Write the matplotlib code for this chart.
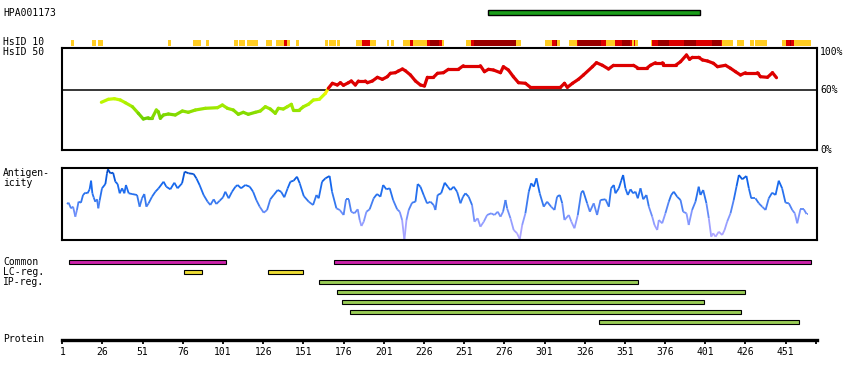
import numpy as np
import matplotlib.pyplot as plt
from matplotlib.collections import LineCollection
from matplotlib.colors import LinearSegmentedColormap

# protein length and the HPA antigen
protein_len = 470
hpa_start, hpa_end = 266, 398

# HsID 10 strip: segments (start, end) and level 1=low 2=mid 3=high
strip_start = [6.5, 19.5, 23, 67, 82, 90.5, 108, 111, 116, 128, 134, 136, 139, 140.5, 146.5,
               164.5, 167, 172, 184, 187.5, 192.5, 203, 205.5, 213, 217, 219, 228, 230, 235.5,
               237, 252, 255, 257, 283.5, 301, 304, 305.5, 308, 309, 316, 321, 322, 336,
               339.5, 345, 349, 354, 355.5, 356.5, 357.5, 367, 368, 371.5, 378.5, 388, 395.5,
               405, 410.5, 411.5, 420.5, 429, 432, 449, 451, 453.5, 454.5, 456]
strip_end = [8.5, 22, 26.5, 68.5, 87.5, 92.5, 110.5, 114.5, 122.5, 131.5, 135.5, 139, 140.5, 142.5,
             148.5, 166.5, 171.5, 173.5, 187.5, 192.5, 196, 204.5, 207.5, 217, 219, 228, 230,
             235.5, 237, 238.5, 255, 257, 283.5, 286.5, 303.5, 305.5, 308, 309, 310.5, 321, 322,
             336, 339.5, 345, 349, 354, 355.5, 356.5, 357.5, 359, 368, 371.5, 378.5, 388, 395.5,
             405, 410.5, 411.5, 418.5, 425, 431.5, 439.5, 451, 453.5, 454.5, 456, 467]
strip_level = [1, 1, 1, 1, 1, 1, 1, 1, 1, 1, 1, 1, 2, 1, 1,
               1, 1, 1, 1, 2, 1, 1, 1, 1, 2, 1, 2, 3, 2,
               1, 1, 2, 3, 1, 1, 1, 2, 3, 1, 1, 2, 3, 2,
               1, 2, 3, 2, 1, 2, 1, 1, 2, 3, 2, 3, 2,
               3, 2, 1, 1, 1, 1, 1, 2, 3, 2, 1]
strip_colors = {1: '#FFCC22', 2: '#DD0000', 3: '#990000'}

# HsID 50 identity [%]
hsid_pos = [25.3, 29.6, 33.4, 37.1, 40.2, 44.6, 48.3, 51.4, 54.5, 57.0, 59.5, 60.7, 62.0, 63.9,
            67.0, 71.3, 75.7, 79.4, 83.8, 90.0, 97.5, 100.6, 103.7, 107.4, 110.5, 113.6, 116.7,
            121.1, 124.2, 127.3, 130.4, 133.5, 135.4, 138.5, 141.0, 143.5, 144.7, 148.5, 151.0,
            154.1, 157.2, 160.9, 164.7, 166.5, 169.0, 172.1, 174.0, 175.9, 179.0, 180.8, 183.3,
            185.2, 189.5, 190.8, 193.9, 197.0, 200.1, 203.2, 205.1, 208.2, 210.1, 212.6, 214.4,
            217.6, 220.7, 223.8, 226.3, 228.1, 231.9, 234.4, 238.1, 241.2, 247.4, 250.5, 261.1,
            263.6, 266.1, 269.2, 273.6, 275.4, 278.5, 281.6, 284.8, 289.1, 292.2, 310.9, 313.4,
            315.2, 318.4, 322.1, 325.2, 330.8, 333.3, 337.0, 340.8, 343.9, 356.3, 358.8, 365.0,
            366.9, 370.0, 374.4, 375.0, 382.5, 385.6, 389.3, 391.2, 393.0, 396.8, 399.3, 402.4,
            406.1, 408.6, 413.6, 416.7, 419.8, 422.9, 426.0, 433.5, 435.3, 439.7, 442.8, 445.3]
hsid_val = [47.7, 50.7, 51.3, 50, 47.3, 43.3, 36.7, 31, 32.3, 32.3, 40, 38.3, 31.7, 35,
            36, 35, 39, 37.7, 40, 41.7, 42.3, 45, 41.7, 40, 35.7, 37.7, 35.7,
            37.7, 39, 43.3, 41, 36.7, 41.7, 41, 43.3, 45.7, 40, 40, 43.3,
            45.7, 50, 50.7, 56.7, 61.7, 66.7, 65, 67.3, 64.7, 67.3, 69, 65,
            69, 69, 67.3, 69, 72.7, 70.7, 73.3, 76.7, 77.3, 79, 81, 79.3,
            75, 69, 65, 64, 72.7, 72.7, 76.7, 77.3, 80.7, 80.7, 84.3, 84.3,
            78.3, 80.7, 80, 77.3, 83.3, 80, 73.3, 67.3, 66.7, 62.7, 62.7, 66.7,
            62.7, 66.7, 70.7, 75, 83.3, 87.3, 84.7, 81, 84.7, 84.7, 82.3, 82.3,
            84.7, 87.3, 87.3, 84.7, 84.7, 88.3, 95, 90.7, 92.7, 92.7, 90, 89,
            86.7, 83.3, 84.7, 81.7, 78.3, 75, 77.3, 77.3, 73.3, 72.7, 77.3, 72.3]

# antigenicity (arbitrary units)
ag_pos = [3.9, 4.9, 6.4, 7.7, 9.1, 10.1, 11.1, 12.6, 13.9, 15.3, 16.7, 18.0, 18.9, 19.7, 20.5,
          21.5, 22.6, 23.4, 24.2, 25.7, 27.8, 28.8, 29.4, 30.9, 32.6, 34.0, 35.4, 36.7, 38.2,
          39.6, 40.6, 42.3, 44.4, 47.5, 49.1, 50.6, 52.0, 53.3, 54.7, 56.8, 58.9, 60.9, 64.0,
          65.7, 68.2, 70.7, 72.7, 75.5, 77.1, 79.6, 82.7, 84.4, 86.4, 88.9, 91.4, 93.1, 95.2,
          96.8, 98.9, 101.0, 102.4, 104.5, 106.6, 108.7, 110.1, 112.2, 114.9, 117.6, 119.7,
          121.7, 123.8, 126.3, 128.4, 130.4, 132.5, 135.0, 137.1, 139.1, 141.2, 142.9, 144.9,
          147.0, 148.7, 151.2, 154.3, 157.0, 159.1, 160.5, 162.6, 164.7, 167.3, 168.8, 171.5,
          173.6, 176.0, 177.5, 179.2, 180.7, 182.7, 184.8, 186.0, 187.1, 188.5, 190.2, 192.2,
          194.7, 196.8, 198.9, 200.6, 202.6, 204.7, 206.8, 209.3, 210.9, 212.4, 213.8, 215.1,
          216.5, 218.6, 220.7, 222.1, 223.8, 225.8, 227.9, 230.0, 232.0, 233.1, 234.5, 236.7,
          238.9, 240.8, 242.4, 244.5, 246.6, 248.7, 250.3, 251.8, 253.8, 255.9, 257.4, 259.4,
          261.1, 263.2, 265.3, 267.8, 269.8, 271.9, 273.6, 275.2, 276.7, 277.7, 279.8, 281.8,
          283.9, 285.6, 287.1, 289.1, 291.2, 292.7, 294.3, 296.0, 298.0, 300.5, 302.6, 305.1,
          307.2, 308.8, 310.5, 312.0, 313.4, 316.1, 317.7, 319.6, 321.7, 323.8, 325.0, 327.5,
          329.2, 331.6, 333.7, 335.8, 338.9, 341.0, 342.4, 344.1, 345.1, 347.2, 348.7, 349.9,
          351.3, 352.8, 354.5, 356.1, 357.6, 359.0, 360.7, 362.4, 364.4, 365.9, 368.0, 369.4,
          371.1, 372.1, 374.2, 376.2, 378.3, 379.8, 381.4, 383.5, 385.6, 387.2, 389.3, 390.7,
          392.8, 394.9, 396.9, 398.0, 399.7, 401.7, 403.2, 404.7, 405.9, 407.4, 409.4, 411.5,
          413.0, 414.6, 416.7, 418.7, 420.4, 421.9, 424.0, 426.6, 428.1, 429.6, 432.2, 434.3,
          436.4, 438.5, 440.5, 442.6, 444.7, 446.7, 448.8, 450.9, 453.0, 455.1, 456.7, 458.2,
          460.2, 462.3, 464.0, 464.8]
ag_val = [36, 37.3, 31.7, 33.3, 23.3, 30, 38.3, 37.3, 45, 47.3, 46.7, 50.7, 59.3, 46.7, 42.7,
          38.3, 40.7, 31.7, 39.3, 51.7, 56, 66.7, 70.7, 66.7, 67.3, 58.3, 56, 46.7, 51.7,
          46.7, 55, 46.7, 46, 45, 33.3, 41.7, 46, 33.3, 36.7, 43.3, 48.3, 51.7, 58.3,
          53.3, 50.7, 57.3, 51.7, 56.7, 68.3, 66.7, 66, 61.7, 55, 45, 38.3, 35, 40.7,
          36, 39.3, 42.7, 48.3, 41.7, 48.3, 53.3, 55, 51.7, 55, 53.3, 48.3,
          40, 33.3, 27.3, 30, 40.7, 45, 50, 48.3, 42.7, 51.7, 58.3, 59.3,
          63.3, 56.7, 44, 38.3, 35, 45, 41.7, 58.3, 61.7, 64, 48.3, 31.7,
          30, 25, 40.7, 40.7, 28.3, 26.7, 30.7, 20, 14, 18.3, 28.3, 30.7,
          41.7, 46, 43.3, 55, 50.7, 51.7, 40, 30.7, 28.3, 20, 0, 20,
          30, 37.3, 38.3, 56, 53.3, 45, 36.7, 38.3, 35, 30, 45, 46.7,
          57.3, 53.3, 50, 53.3, 48.3, 36.7, 43.3, 46.7, 43.3, 35, 18.3, 21.7,
          13.3, 18.3, 25, 26.7, 25, 28.3, 23.3, 28.3, 40, 31.7, 21.7, 10,
          6.7, 0.7, 15, 26.7, 48.3, 56.7, 53.3, 61.7, 46.7, 33.3, 38.3, 33.3,
          30, 43.3, 45, 36.7, 20, 25, 18.3, 11.7, 25, 47.3, 49.3, 36.7,
          28.3, 36.7, 25, 40, 40.7, 33.3, 51.7, 55, 46.7, 51.7, 59.3, 65,
          51.7, 45, 50.7, 46.7, 48.3, 41.7, 51.7, 40.7, 45, 33.3, 23.3, 15,
          10, 20, 16.7, 26.7, 38.3, 45, 48.3, 43.3, 40, 28.3, 26.7, 15,
          30, 38.3, 53.3, 45, 50, 36.7, 21.7, 3.3, 6.7, 3.3, 8.3, 5,
          10, 18.3, 26.7, 40, 53.3, 65, 60.7, 64, 51.7, 41.7, 41.7, 36.7,
          33.3, 30, 41.7, 47.3, 45, 59.3, 51.7, 37.3, 36.7, 30, 26.7, 16.7,
          30.7, 30.7, 26, 26]

# feature tracks
common_start = [5, 170]
common_end = [103, 467]
lc_start = [77, 129]
lc_end = [88, 151]
ip_start = [161, 172, 175, 180, 335]
ip_end = [359, 426, 400, 423, 459]

tick_res = [1, 26, 51, 76, 101, 126, 151, 176, 201, 226, 251, 276, 301, 326, 351, 376, 401, 426, 451]

W, H = 850, 380
MONO = 'DejaVu Sans Mono'
FS = 7
plt.rcParams['font.family'] = MONO

fig = plt.figure(figsize=(8.5, 3.8), dpi=100)


def box(top, bottom, left=61.5, right=817):
    return [left / W, 1 - bottom / H, (right - left) / W, (bottom - top) / H]


def label(x, y, s, **kw):
    fig.text(x / W, 1 - y / H, s, fontsize=FS, va='center', ha='left', **kw)


def clean(ax):
    ax.set_xlim(0.5, protein_len + 0.5)
    ax.set_xticks([])
    ax.set_yticks([])


# HPA antigen bar
ax = fig.add_axes(box(7, 17))
clean(ax)
ax.set_ylim(0, 1)
ax.axis('off')
ax.barh(0.5, hpa_end - hpa_start, left=hpa_start, height=0.5,
        color='#1A9E1A', edgecolor='black', linewidth=1.0)

# HsID 10 strip
ax = fig.add_axes(box(40, 45.5))
clean(ax)
ax.set_ylim(0, 1)
ax.axis('off')
for lev in (1, 2, 3):
    segs = [(s, e - s) for s, e, l in zip(strip_start, strip_end, strip_level) if l == lev]
    ax.broken_barh(segs, (0, 1), facecolors=strip_colors[lev], linewidth=0)

# HsID 50 plot
ax = fig.add_axes(box(48, 150))
clean(ax)
ax.set_ylim(0, 102)
for sp in ax.spines.values():
    sp.set_linewidth(1.5)
ax.axhline(60, color='black', linewidth=1.1)
green = LinearSegmentedColormap.from_list(
    'hs', [(0, '#66CC00'), (0.5, '#AAEE00'), (0.8, '#CCFF00'), (1, '#FFEE00')])
pts = np.column_stack([hsid_pos, hsid_val])
segs = np.stack([pts[:-1], pts[1:]], axis=1)
mid = (np.array(hsid_val[:-1]) + np.array(hsid_val[1:])) / 2
cols = ['#DD0000' if v >= 60 else green(np.clip((v - 30) / 30, 0, 1)) for v in mid]
ax.add_collection(LineCollection(segs, colors=cols, linewidths=2.3, capstyle='round'))

# antigenicity plot
ax = fig.add_axes(box(168, 240))
clean(ax)
ax.set_ylim(0, 72)
for sp in ax.spines.values():
    sp.set_linewidth(1.5)
blue = LinearSegmentedColormap.from_list(
    'ag', [(0, '#BBAAFF'), (0.3, '#8899FF'), (0.55, '#3377EE'), (0.8, '#1166EE'), (1, '#0044BB')])
pts = np.column_stack([ag_pos, ag_val])
segs = np.stack([pts[:-1], pts[1:]], axis=1)
mid = (np.array(ag_val[:-1]) + np.array(ag_val[1:])) / 2
ax.add_collection(LineCollection(segs, colors=[blue(v / 72) for v in mid], linewidths=1.3))

# feature bars
ax = fig.add_axes(box(257, 327))
clean(ax)
ax.set_ylim(6.5, -0.5)
ax.axis('off')
bar_kw = dict(height=0.42, edgecolor='black', linewidth=0.8)
ax.barh([0] * len(common_start), np.array(common_end) - np.array(common_start),
        left=common_start, color='#CC22AA', **bar_kw)
ax.barh([1] * len(lc_start), np.array(lc_end) - np.array(lc_start),
        left=lc_start, color='#EEDD33', **bar_kw)
ax.barh(range(2, 2 + len(ip_start)), np.array(ip_end) - np.array(ip_start),
        left=ip_start, color='#99CC55', **bar_kw)

# protein axis
ax = fig.add_axes(box(338, 339.5))
ax.set_xlim(0.5, protein_len + 0.5)
ax.set_yticks([])
for k in ('top', 'left', 'right'):
    ax.spines[k].set_visible(False)
ax.spines['bottom'].set_linewidth(2.4)
ax.patch.set_alpha(0)
ax.set_xticks(tick_res + [protein_len])
ax.set_xticklabels([str(t) for t in tick_res] + [''])
ax.tick_params(axis='x', direction='out', length=3, width=1.3, pad=2.5, labelsize=FS)

# text labels
label(3, 13, 'HPA001173')
label(3, 42, 'HsID 10')
label(3, 52, 'HsID 50')
label(3, 173, 'Antigen-')
label(3, 183, 'icity')
label(3, 262, 'Common')
label(3, 272, 'LC-reg.')
label(3, 282, 'IP-reg.')
label(3, 339, 'Protein')
label(820, 52, '100%')
label(820, 90, '60%')
label(820, 150, '0%')

fig.savefig('out.png', dpi=100)
